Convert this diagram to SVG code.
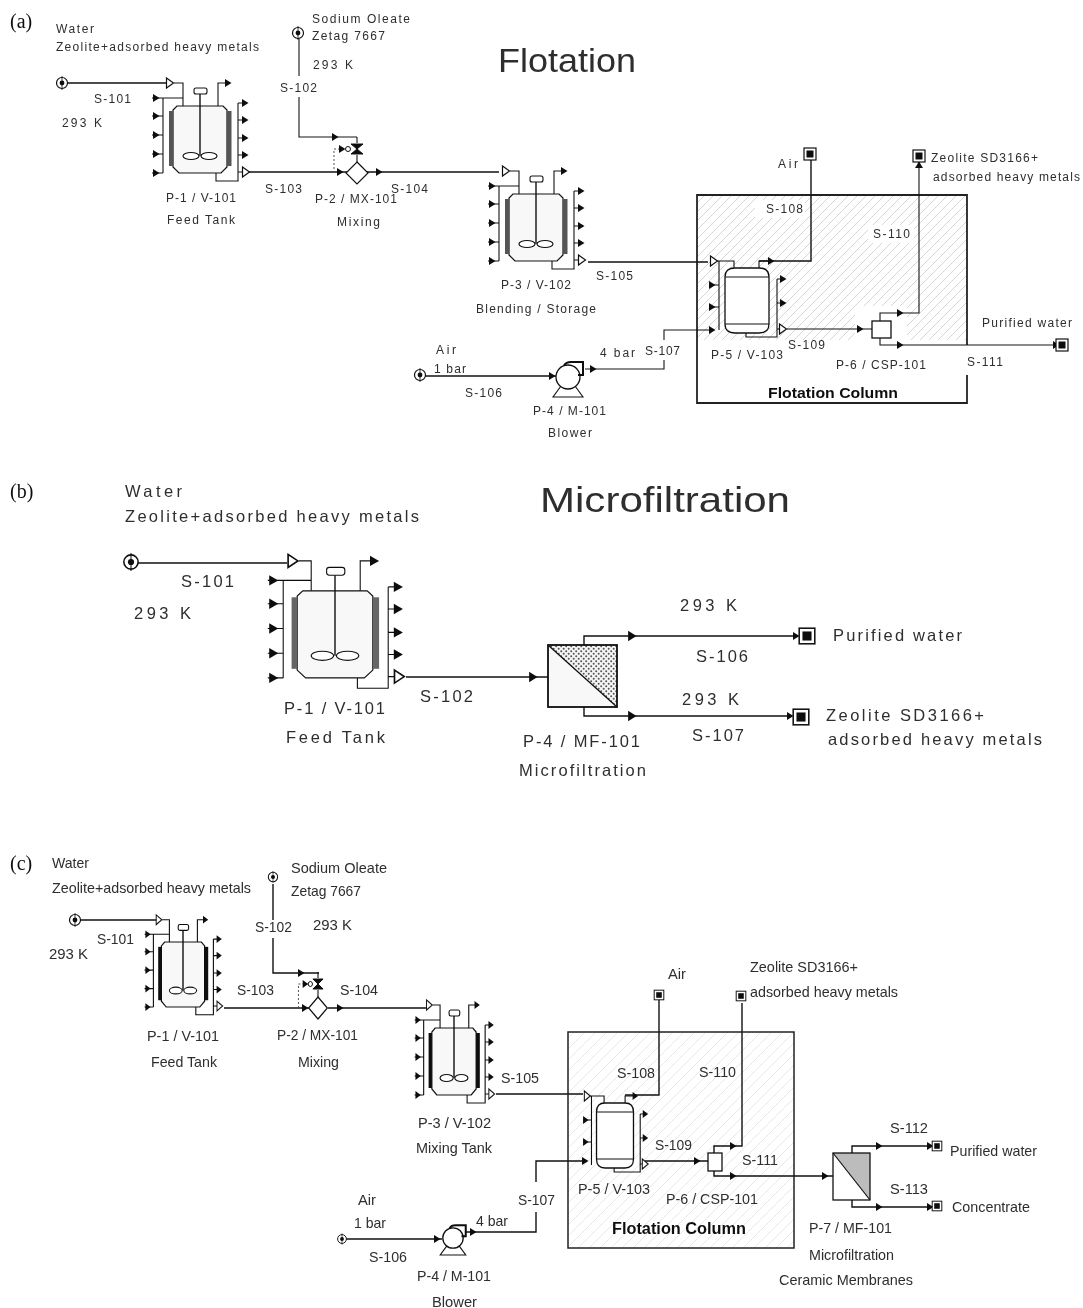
<svg xmlns="http://www.w3.org/2000/svg" width="1083" height="1308" viewBox="0 0 1083 1308">
<style>
text{font-family:"Liberation Sans",Arial,sans-serif;fill:#2e2e2e}
.a{font-size:12px}
.b{font-size:16.5px}
.c{font-size:15px}
.s{font-family:"Liberation Serif","Times New Roman",serif;font-size:20px;fill:#111}
.h{font-weight:bold;fill:#111}
.l{fill:none;stroke:#111;stroke-width:1.4}
.l2{fill:none;stroke:#111;stroke-width:1.1}
.v *{vector-effect:non-scaling-stroke}
.box{fill:none;stroke:#222;stroke-width:1.8}
</style>
<defs>
<filter id="soft" filterUnits="userSpaceOnUse" x="0" y="0" width="1083" height="1308"><feGaussianBlur stdDeviation="0.35"/></filter>
<pattern id="hatch" patternUnits="userSpaceOnUse" width="9" height="9"><path d="M-1,10 L10,-1" stroke="#cbcbcb" stroke-width="0.8"/></pattern>
<pattern id="hatch2" patternUnits="userSpaceOnUse" width="11" height="11"><path d="M-1,12 L12,-1" stroke="#e2e2e2" stroke-width="0.8"/></pattern>
<pattern id="dots" patternUnits="userSpaceOnUse" width="5" height="5"><rect width="5" height="5" fill="#f4f4f4"/><circle cx="1.2" cy="1.2" r="1" fill="#555"/><circle cx="3.7" cy="3.7" r="1" fill="#555"/></pattern>
<path id="ah" d="M-3,-4 L3.5,0 L-3,4 Z" fill="#111"/>
<path id="oh" d="M-3.5,-5 L3.5,0 L-3.5,5 Z" fill="#fff" stroke="#111" stroke-width="1.2"/>
<g id="src"><circle r="5.5" fill="#fff" stroke="#111" stroke-width="1.2"/><circle r="2.4" fill="#111"/><path d="M0,-7 V7" stroke="#111" stroke-width="0.8"/></g>
<g id="snk"><rect x="-6" y="-6" width="12" height="12" fill="#fff" stroke="#111" stroke-width="1.2"/><rect x="-3.5" y="-3.5" width="7" height="7" fill="#111"/></g>
<g id="vessel" class="v">
<path d="M-23,-34 H23 L27,-30 V27 L21,33 H-21 L-27,27 V-30 Z" fill="#f8f8f8" stroke="#111" stroke-width="1.2"/>
<rect x="-31" y="-29" width="4" height="55" fill="currentColor"/>
<rect x="27" y="-29" width="4.5" height="55" fill="currentColor"/>
<path class="l" d="M0,-46 V16"/>
<rect x="-6" y="-52" width="13" height="6" rx="2" fill="#fff" stroke="#111" stroke-width="1.1"/>
<ellipse cx="-9" cy="16" rx="8" ry="3.5" fill="#fff" stroke="#111" stroke-width="1.1"/>
<ellipse cx="9" cy="16" rx="8" ry="3.5" fill="#fff" stroke="#111" stroke-width="1.1"/>
<path class="l2" d="M-26,-57 H-17 V-34 M-44,-42 H-17 M-37,-42 V33 M-48,-42 H-44 M-48,-24 H-37 M-48,-5 H-37 M-48,14 H-37 M-48,33 H-37"/>
<path class="l2" d="M18,-34 V-57 H27 M38,-37 V32 M38,-37 H45 M38,-20 H45 M38,-2 H45 M38,15 H45 M16,33 V41 H38 V32 H43"/>
<use href="#oh" x="-30" y="-57"/>
<use href="#ah" x="-44" y="-42"/><use href="#ah" x="-44" y="-24"/><use href="#ah" x="-44" y="-5"/><use href="#ah" x="-44" y="14"/><use href="#ah" x="-44" y="33"/>
<use href="#ah" x="28" y="-57"/>
<use href="#ah" x="45" y="-37"/><use href="#ah" x="45" y="-20"/><use href="#ah" x="45" y="-2"/><use href="#ah" x="45" y="15"/>
<use href="#oh" x="46" y="32"/>
</g>
<g id="drum" class="v">
<path d="M-22,-23 Q-22,-32 -12,-32 H12 Q22,-32 22,-23 V24 Q22,33 12,33 H-12 Q-22,33 -22,24 Z" fill="#fff" stroke="#111" stroke-width="1.3"/>
<path class="l2" d="M-22,-23 H22 M-22,24 H22"/>
<path class="l2" d="M-28,-39 V30 M-30,-39 H-13 V-32 M-38,-15 H-28 M-38,7 H-28 M12,-32 V-39 H23 M30,-21 V29 M30,-21 H36 M30,3 H36 M-1,33 V37 H30 V29 H33"/>
<use href="#oh" x="-33" y="-39"/>
<use href="#ah" x="-35" y="-15"/><use href="#ah" x="-35" y="7"/>
<use href="#ah" x="24" y="-39"/>
<use href="#ah" x="36" y="-21"/><use href="#ah" x="36" y="3"/>
<use href="#oh" x="36" y="29"/>
</g>
<g id="mixer" class="v">
<path d="M0,-11 L11,0 L0,11 L-11,0 Z" fill="#fff" stroke="#111" stroke-width="1.2"/>
<path class="l2" d="M0,-36 V-30 M0,-18 V-11"/>
<path d="M-6,-29 H6 L-6,-19 H6 Z" fill="#111" stroke="#111"/>
<circle cx="-9" cy="-24" r="2.5" fill="#fff" stroke="#111"/>
<path d="M-23,0 V-24 H-12" fill="none" stroke="#555" stroke-width="1" stroke-dasharray="2 2"/>
<use href="#ah" x="-15" y="-24"/>
</g>
<g id="blower" class="v">
<path d="M-7,9 L-15,20 H15 L7,9" fill="#fff" stroke="#111" stroke-width="1.1"/>
<circle r="12" fill="#fff" stroke="#111" stroke-width="1.3"/>
<path d="M-4,-11.5 Q-2,-15 3,-15 H15 V-2 H10" fill="none" stroke="#111" stroke-width="2"/>
</g>
</defs>
<rect width="1083" height="1308" fill="#fff"/>
<g filter="url(#soft)">

<!-- Panel a -->
<g id="panel-a-background">
<rect x="697" y="195" width="270" height="208" fill="#fff"/>
<rect x="697" y="195" width="270" height="145" fill="url(#hatch)"/>
<rect x="855" y="306" width="52" height="36" fill="#fff"/>
<rect x="755" y="200" width="50" height="18" fill="#fff"/>
<rect x="868" y="225" width="46" height="18" fill="#fff"/>
<path class="box" d="M967,345 V195 H697 V403 H967 V375"/>
</g>
<g id="connectors-a">
<path class="l" d="M62,83 H166 M246,172 H347 M367,172 H499"/>
<path class="l2" d="M299,38 V76 M299,97 V137 H357"/>
<path class="l" d="M588,262 H708"/>
<path class="l" d="M759,261 H811 V158"/>
<path class="l2" d="M787,329 H872 M880,321 V313 H919 V162"/>
<path class="l2" d="M880,338 V345 H1056"/>
<path class="l" d="M425,376 H558"/>
<path class="l2" d="M585,369 H664 V360 M664,340 V330 H712"/>
<use href="#ah" x="340" y="172"/><use href="#ah" x="379" y="172"/><use href="#ah" x="335" y="137"/>
<use href="#ah" x="860" y="329"/><use href="#ah" x="900" y="313"/><use href="#ah" x="900" y="345"/><use href="#ah" x="1056" y="345"/>
<use href="#ah" transform="translate(919 165) rotate(-90)"/>
<use href="#ah" x="552" y="376"/><use href="#ah" x="593" y="369"/><use href="#ah" x="712" y="330"/>
<text class="a" x="94" y="103" textLength="37">S-101</text>
<text class="a" x="280" y="92" textLength="37">S-102</text>
<text class="a" x="265" y="193" textLength="37">S-103</text>
<text class="a" x="391" y="193" textLength="37">S-104</text>
<text class="a" x="596" y="280" textLength="37">S-105</text>
<text class="a" x="465" y="397" textLength="37">S-106</text>
<text class="a" x="645" y="355" textLength="35">S-107</text>
<text class="a" x="766" y="213" textLength="37">S-108</text>
<text class="a" x="788" y="349" textLength="37">S-109</text>
<text class="a" x="873" y="238" textLength="37">S-110</text>
<text class="a" x="967" y="366" textLength="36">S-111</text>
</g>
<g id="a-label"><text class="s" x="10" y="28">(a)</text></g>
<g id="a-title"><text x="498" y="72" font-size="33" textLength="138" lengthAdjust="spacingAndGlyphs">Flotation</text></g>
<g id="a-feed">
<use href="#src" x="62" y="83"/>
<text class="a" x="56" y="33" textLength="38">Water</text>
<text class="a" x="56" y="51" textLength="203">Zeolite+adsorbed heavy metals</text>
<text class="a" x="62" y="127" textLength="40">293 K</text>
</g>
<g id="a-sodium">
<use href="#src" x="298" y="33"/>
<text class="a" x="312" y="23" textLength="98">Sodium Oleate</text>
<text class="a" x="312" y="40" textLength="73">Zetag 7667</text>
<text class="a" x="313" y="69" textLength="40">293 K</text>
</g>
<g id="a-p1">
<use href="#vessel" color="#555" transform="translate(200 140)"/>
<text class="a" x="166" y="202" textLength="70">P-1 / V-101</text>
<text class="a" x="167" y="224" textLength="68">Feed Tank</text>
</g>
<g id="a-p2">
<use href="#mixer" transform="translate(357 173)"/>
<text class="a" x="315" y="203" textLength="82">P-2 / MX-101</text>
<text class="a" x="337" y="226" textLength="43">Mixing</text>
</g>
<g id="a-p3">
<use href="#vessel" color="#555" transform="translate(536 228)"/>
<text class="a" x="501" y="289" textLength="70">P-3 / V-102</text>
<text class="a" x="476" y="313" textLength="120">Blending / Storage</text>
</g>
<g id="a-p4">
<use href="#blower" transform="translate(568 377)"/>
<text class="a" x="533" y="415" textLength="73">P-4 / M-101</text>
<text class="a" x="548" y="437" textLength="44">Blower</text>
</g>
<g id="a-air-in">
<use href="#src" x="420" y="375"/>
<text class="a" x="436" y="354" textLength="20">Air</text>
<text class="a" x="434" y="373" textLength="32">1 bar</text>
<text class="a" x="600" y="357" textLength="35">4 bar</text>
</g>
<g id="a-p5">
<use href="#drum" transform="translate(747 300)"/>
<text class="a" x="711" y="359" textLength="72">P-5 / V-103</text>
</g>
<g id="a-p6">
<rect x="872" y="321" width="19" height="17" fill="#fff" stroke="#111" stroke-width="1.3"/>
<text class="a" x="836" y="369" textLength="90">P-6 / CSP-101</text>
</g>
<g id="a-column"><text class="h" x="768" y="398" font-size="15" textLength="130" lengthAdjust="spacingAndGlyphs">Flotation Column</text></g>
<g id="a-air-out">
<use href="#snk" x="810" y="154"/>
<text class="a" x="778" y="168" textLength="20">Air</text>
</g>
<g id="a-zeolite-out">
<use href="#snk" x="919" y="156"/>
<text class="a" x="931" y="162" textLength="107">Zeolite SD3166+</text>
<text class="a" x="933" y="181" textLength="147">adsorbed heavy metals</text>
</g>
<g id="a-water-out">
<use href="#snk" x="1062" y="345"/>
<text class="a" x="982" y="327" textLength="90">Purified water</text>
</g>

<!-- Panel b -->
<g id="connectors-b">
<path class="l" d="M131,563 H287"/>
<path class="l" d="M406,677 H548"/>
<path class="l" d="M584,645 V636 H797"/>
<path class="l" d="M584,707 V716 H792"/>
<use href="#ah" transform="translate(533 677) scale(1.3)"/>
<use href="#ah" transform="translate(632 636) scale(1.3)"/>
<use href="#ah" transform="translate(632 716) scale(1.3)"/>
<use href="#ah" x="796" y="636"/><use href="#ah" x="790" y="716"/>
<text class="b" x="181" y="587" textLength="53">S-101</text>
<text class="b" x="420" y="702" textLength="53">S-102</text>
<text class="b" x="696" y="662" textLength="52">S-106</text>
<text class="b" x="692" y="741" textLength="52">S-107</text>
</g>
<g id="b-label"><text class="s" x="10" y="498">(b)</text></g>
<g id="b-title"><text x="540" y="512" font-size="35" textLength="250" lengthAdjust="spacingAndGlyphs">Microfiltration</text></g>
<g id="b-feed">
<use href="#src" transform="translate(131 562) scale(1.3)"/>
<text class="b" x="125" y="497" textLength="57">Water</text>
<text class="b" x="125" y="522" textLength="294">Zeolite+adsorbed heavy metals</text>
<text class="b" x="134" y="619" textLength="57">293 K</text>
</g>
<g id="b-p1">
<use href="#vessel" color="#666" transform="translate(335 635) scale(1.4 1.3)"/>
<text class="b" x="284" y="714" textLength="101">P-1 / V-101</text>
<text class="b" x="286" y="743" textLength="99">Feed Tank</text>
</g>
<g id="b-p4">
<rect x="548" y="645" width="69" height="62" fill="#f8f8f8"/>
<path d="M548,645 H617 V707 Z" fill="url(#dots)"/>
<path d="M548,645 L617,707" stroke="#111" stroke-width="1.3"/>
<rect x="548" y="645" width="69" height="62" fill="none" stroke="#111" stroke-width="1.8"/>
<text class="b" x="523" y="747" textLength="117">P-4 / MF-101</text>
<text class="b" x="519" y="776" textLength="127">Microfiltration</text>
</g>
<g id="b-water">
<use href="#snk" transform="translate(807 636) scale(1.3)"/>
<text class="b" x="680" y="611" textLength="57">293 K</text>
<text class="b" x="833" y="641" textLength="129">Purified water</text>
</g>
<g id="b-zeolite">
<use href="#snk" transform="translate(801 717) scale(1.3)"/>
<text class="b" x="682" y="705" textLength="57">293 K</text>
<text class="b" x="826" y="721" textLength="158">Zeolite SD3166+</text>
<text class="b" x="828" y="745" textLength="214">adsorbed heavy metals</text>
</g>

<!-- Panel c -->
<g id="panel-c-background">
<rect x="568" y="1032" width="226" height="216" fill="url(#hatch2)"/>
<rect class="box" x="568" y="1032" width="226" height="216" style="stroke-width:1.5"/>
</g>
<g id="connectors-c">
<path class="l" d="M75,920 H158"/>
<path class="l" d="M224,1008 H309 M328,1008 H426"/>
<path class="l" d="M273,884 V920 M273,938 V973 H319"/>
<path class="l" d="M496,1094 H583"/>
<path class="l" d="M625,1095 H659 V1000"/>
<path class="l" d="M645,1161 H708 M714,1153 V1146 H742 V1003"/>
<path class="l" d="M714,1171 V1176 H833"/>
<path class="l" d="M852,1153 V1146 H932 M852,1200 V1207 H932"/>
<path class="l" d="M345,1239 H442"/>
<path class="l" d="M466,1232 H536 V1212 M536,1182 V1161 H585"/>
<use href="#ah" x="305" y="1008"/><use href="#ah" x="340" y="1008"/><use href="#ah" x="301" y="973"/>
<use href="#ah" x="697" y="1161"/><use href="#ah" x="733" y="1146"/><use href="#ah" x="733" y="1176"/>
<use href="#ah" x="825" y="1176"/><use href="#ah" x="879" y="1146"/><use href="#ah" x="879" y="1207"/>
<use href="#ah" x="930" y="1146"/><use href="#ah" x="930" y="1207"/>
<use href="#ah" x="437" y="1239"/><use href="#ah" x="473" y="1232"/><use href="#ah" x="585" y="1161"/>
<text class="c" x="97" y="944" textLength="37" lengthAdjust="spacingAndGlyphs">S-101</text>
<text class="c" x="255" y="932" textLength="37" lengthAdjust="spacingAndGlyphs">S-102</text>
<text class="c" x="237" y="995" textLength="37" lengthAdjust="spacingAndGlyphs">S-103</text>
<text class="c" x="340" y="995" textLength="38" lengthAdjust="spacingAndGlyphs">S-104</text>
<text class="c" x="501" y="1083" textLength="38" lengthAdjust="spacingAndGlyphs">S-105</text>
<text class="c" x="369" y="1262" textLength="38" lengthAdjust="spacingAndGlyphs">S-106</text>
<text class="c" x="518" y="1205" textLength="37" lengthAdjust="spacingAndGlyphs">S-107</text>
<text class="c" x="617" y="1078" textLength="38" lengthAdjust="spacingAndGlyphs">S-108</text>
<text class="c" x="655" y="1150" textLength="37" lengthAdjust="spacingAndGlyphs">S-109</text>
<text class="c" x="699" y="1077" textLength="37" lengthAdjust="spacingAndGlyphs">S-110</text>
<text class="c" x="742" y="1165" textLength="36" lengthAdjust="spacingAndGlyphs">S-111</text>
<text class="c" x="890" y="1133" textLength="38" lengthAdjust="spacingAndGlyphs">S-112</text>
<text class="c" x="890" y="1194" textLength="38" lengthAdjust="spacingAndGlyphs">S-113</text>
</g>
<g id="c-label"><text class="s" x="10" y="870">(c)</text></g>
<g id="c-feed">
<use href="#src" x="75" y="920"/>
<text class="c" x="52" y="868" textLength="37" lengthAdjust="spacingAndGlyphs">Water</text>
<text class="c" x="52" y="893" textLength="199" lengthAdjust="spacingAndGlyphs">Zeolite+adsorbed heavy metals</text>
<text class="c" x="49" y="959" textLength="39" lengthAdjust="spacingAndGlyphs">293 K</text>
</g>
<g id="c-sodium">
<use href="#src" transform="translate(273 877) scale(.85)"/>
<text class="c" x="291" y="873" textLength="96" lengthAdjust="spacingAndGlyphs">Sodium Oleate</text>
<text class="c" x="291" y="896" textLength="70" lengthAdjust="spacingAndGlyphs">Zetag 7667</text>
<text class="c" x="313" y="930" textLength="39" lengthAdjust="spacingAndGlyphs">293 K</text>
</g>
<g id="c-p1">
<use href="#vessel" color="#111" transform="translate(183 975) scale(.8 .97)"/>
<text class="c" x="147" y="1041" textLength="72" lengthAdjust="spacingAndGlyphs">P-1 / V-101</text>
<text class="c" x="151" y="1067" textLength="66" lengthAdjust="spacingAndGlyphs">Feed Tank</text>
</g>
<g id="c-p2">
<use href="#mixer" transform="translate(318 1008) scale(.85 1)"/>
<text class="c" x="277" y="1040" textLength="81" lengthAdjust="spacingAndGlyphs">P-2 / MX-101</text>
<text class="c" x="298" y="1067" textLength="41" lengthAdjust="spacingAndGlyphs">Mixing</text>
</g>
<g id="c-p3">
<use href="#vessel" color="#111" transform="translate(454 1062) scale(.82 1)"/>
<text class="c" x="418" y="1128" textLength="73" lengthAdjust="spacingAndGlyphs">P-3 / V-102</text>
<text class="c" x="416" y="1153" textLength="76" lengthAdjust="spacingAndGlyphs">Mixing Tank</text>
</g>
<g id="c-p4">
<use href="#blower" transform="translate(453 1238) scale(.85)"/>
<text class="c" x="417" y="1281" textLength="74" lengthAdjust="spacingAndGlyphs">P-4 / M-101</text>
<text class="c" x="432" y="1307" textLength="45" lengthAdjust="spacingAndGlyphs">Blower</text>
</g>
<g id="c-air-in">
<use href="#src" transform="translate(342 1239) scale(.8)"/>
<text class="c" x="358" y="1205" textLength="18" lengthAdjust="spacingAndGlyphs">Air</text>
<text class="c" x="354" y="1228" textLength="32" lengthAdjust="spacingAndGlyphs">1 bar</text>
<text class="c" x="476" y="1226" textLength="32" lengthAdjust="spacingAndGlyphs">4 bar</text>
</g>
<g id="c-p5">
<use href="#drum" transform="translate(615 1135) scale(.84 1)"/>
<text class="c" x="578" y="1194" textLength="72" lengthAdjust="spacingAndGlyphs">P-5 / V-103</text>
</g>
<g id="c-p6">
<rect x="708" y="1153" width="14" height="18" fill="#fff" stroke="#111" stroke-width="1.3"/>
<text class="c" x="666" y="1204" textLength="92" lengthAdjust="spacingAndGlyphs">P-6 / CSP-101</text>
</g>
<g id="c-column"><text class="h" x="612" y="1234" font-size="16" textLength="134" lengthAdjust="spacingAndGlyphs">Flotation Column</text></g>
<g id="c-air-out">
<use href="#snk" transform="translate(659 995) scale(.8)"/>
<text class="c" x="668" y="979" textLength="18" lengthAdjust="spacingAndGlyphs">Air</text>
</g>
<g id="c-zeolite-out">
<use href="#snk" transform="translate(741 996) scale(.8)"/>
<text class="c" x="750" y="972" textLength="108" lengthAdjust="spacingAndGlyphs">Zeolite SD3166+</text>
<text class="c" x="750" y="997" textLength="148" lengthAdjust="spacingAndGlyphs">adsorbed heavy metals</text>
</g>
<g id="c-p7">
<rect x="833" y="1153" width="37" height="47" fill="#fff"/>
<path d="M833,1153 H870 V1200 Z" fill="#bcbcbc"/>
<path d="M833,1153 L870,1200" stroke="#111" stroke-width="1.2"/>
<rect x="833" y="1153" width="37" height="47" fill="none" stroke="#111" stroke-width="1.3"/>
<text class="c" x="809" y="1233" textLength="83" lengthAdjust="spacingAndGlyphs">P-7 / MF-101</text>
<text class="c" x="809" y="1260" textLength="85" lengthAdjust="spacingAndGlyphs">Microfiltration</text>
<text class="c" x="779" y="1285" textLength="134" lengthAdjust="spacingAndGlyphs">Ceramic Membranes</text>
</g>
<g id="c-water-out">
<use href="#snk" transform="translate(937 1146) scale(.8)"/>
<text class="c" x="950" y="1156" textLength="87" lengthAdjust="spacingAndGlyphs">Purified water</text>
</g>
<g id="c-concentrate">
<use href="#snk" transform="translate(937 1206) scale(.8)"/>
<text class="c" x="952" y="1212" textLength="78" lengthAdjust="spacingAndGlyphs">Concentrate</text>
</g>
</g>
</svg>
